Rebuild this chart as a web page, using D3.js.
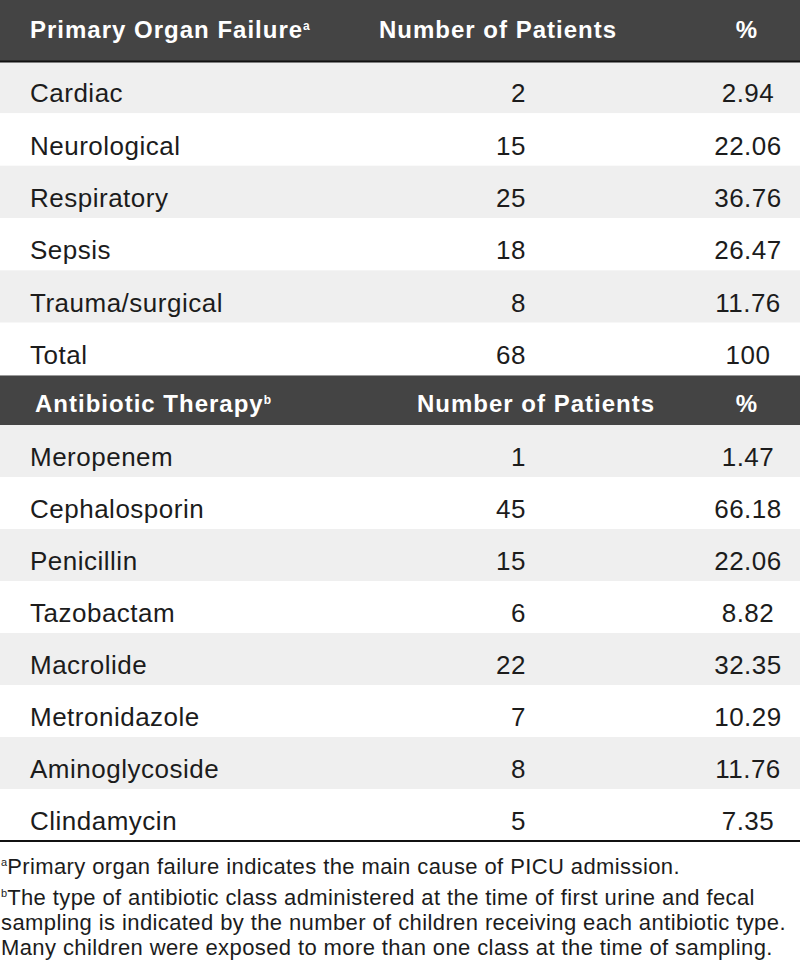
<html>
<head>
<meta charset="utf-8">
<style>
  body { margin: 0; background: #ffffff; font-family: "Liberation Sans", Arial, Helvetica, sans-serif; }
  svg { display: block; }
  .cabecera { fill: #ffffff; font-weight: bold; font-size: 24px; letter-spacing: 1px; }
  .celda { fill: #1c1c1c; font-size: 26px; letter-spacing: 0.5px; }
  .nota { fill: #1c1c1c; font-size: 22px; letter-spacing: 0.4px; }
</style>
<script src="https://cdn.jsdelivr.net/npm/d3@7"></script>
</head>
<body>
<svg id="Tabla"></svg>
<script>
// Datos de la tabla
const organos = ["Cardiac", "Neurological", "Respiratory", "Sepsis", "Trauma/surgical", "Total"];
const organosPacientes = [2, 15, 25, 18, 8, 68];
const organosPorcentaje = [2.94, 22.06, 36.76, 26.47, 11.76, 100];

const antibioticos = ["Meropenem", "Cephalosporin", "Penicillin", "Tazobactam", "Macrolide", "Metronidazole", "Aminoglycoside", "Clindamycin"];
const antibioticosPacientes = [1, 45, 15, 6, 22, 7, 8, 5];
const antibioticosPorcentaje = [1.47, 66.18, 22.06, 8.82, 32.35, 10.29, 11.76, 7.35];

const cabeceras = [
  { titulo: "Primary Organ Failure", sup: "a", col2: "Number of Patients" },
  { titulo: "Antibiotic Therapy", sup: "b", col2: "Number of Patients" }
];

const notas = [
  { sup: "a", lineas: ["Primary organ failure indicates the main cause of PICU admission."] },
  { sup: "b", lineas: [
      "The type of antibiotic class administered at the time of first urine and fecal",
      "sampling is indicated by the number of children receiving each antibiotic type.",
      "Many children were exposed to more than one class at the time of sampling."] }
];

const ancho = 800, alto = 963;
const svg = d3.select("#Tabla").attr("width", ancho).attr("height", alto);

const formatoPct = d => d === 100 ? "100" : d.toFixed(2);

function dibujarSeccion(cab, categorias, pacientes, porcentajes, y0, altoCab, y1, segunda) {
  // cabecera oscura
  svg.append("rect").attr("x", 0).attr("y", y0).attr("width", ancho).attr("height", altoCab).attr("fill", "#444444");
  if (segunda) {
    svg.append("line").attr("x1", 0).attr("x2", ancho).attr("y1", y0 + 0.5).attr("y2", y0 + 0.5)
      .attr("stroke", "#9a9a9a").attr("stroke-width", 1);
  }
  const yTexto = y0 + altoCab - (segunda ? 13 : 23);
  const t = svg.append("text").attr("class", "cabecera").attr("x", segunda ? 35 : 30).attr("y", yTexto);
  t.append("tspan").text(cab.titulo);
  t.append("tspan").attr("dy", -8).attr("font-size", "12px").attr("letter-spacing", "0px").text(cab.sup);
  svg.append("text").attr("class", "cabecera").attr("x", segunda ? 536 : 498).attr("y", yTexto)
    .attr("text-anchor", "middle").text(cab.col2);
  svg.append("text").attr("class", "cabecera").attr("x", 747).attr("y", yTexto)
    .attr("text-anchor", "middle").text("%");

  // filas
  const filas = d3.scaleBand().domain(categorias).range([y0 + altoCab, y1]);
  const datos = categorias.map((c, i) => ({ nombre: c, pacientes: pacientes[i], pct: porcentajes[i], i }));

  const g = svg.append("g");
  g.selectAll(".fondo").data(datos).enter().append("rect")
    .attr("x", 0).attr("width", ancho)
    .attr("y", d => filas(d.nombre)).attr("height", filas.bandwidth())
    .attr("fill", d => d.i % 2 === 0 ? "#efefef" : "#ffffff");

  const base = d => filas(d.nombre) + filas.bandwidth() / 2 + 15;
  g.selectAll(".nombre").data(datos).enter().append("text").attr("class", "celda")
    .attr("x", 30).attr("y", base).text(d => d.nombre);
  g.selectAll(".pacientes").data(datos).enter().append("text").attr("class", "celda")
    .attr("x", 526).attr("y", base).attr("text-anchor", "end").text(d => d.pacientes);
  g.selectAll(".pct").data(datos).enter().append("text").attr("class", "celda")
    .attr("x", 748).attr("y", base).attr("text-anchor", "middle").text(d => formatoPct(d.pct));
}

dibujarSeccion(cabeceras[0], organos, organosPacientes, organosPorcentaje, 0, 61, 375, false);
// línea bajo la primera cabecera
svg.append("line").attr("x1", 0).attr("x2", ancho).attr("y1", 61.5).attr("y2", 61.5)
  .attr("stroke", "#111111").attr("stroke-width", 2);

dibujarSeccion(cabeceras[1], antibioticos, antibioticosPacientes, antibioticosPorcentaje, 375, 50, 841, true);

// línea final
svg.append("line").attr("x1", 0).attr("x2", ancho).attr("y1", 841).attr("y2", 841)
  .attr("stroke", "#111111").attr("stroke-width", 2);

// notas al pie
const basesNotas = [874, 905, 930, 955];
let k = 0;
notas.forEach(n => {
  n.lineas.forEach((l, j) => {
    const t = svg.append("text").attr("class", "nota").attr("x", 1).attr("y", basesNotas[k]);
    if (j === 0) t.append("tspan").attr("font-size", "11px").attr("letter-spacing", "0px").attr("dy", -8).text(n.sup);
    t.append("tspan").attr("dy", j === 0 ? 8 : 0).text(l);
    k++;
  });
});
</script>
</body>
</html>
